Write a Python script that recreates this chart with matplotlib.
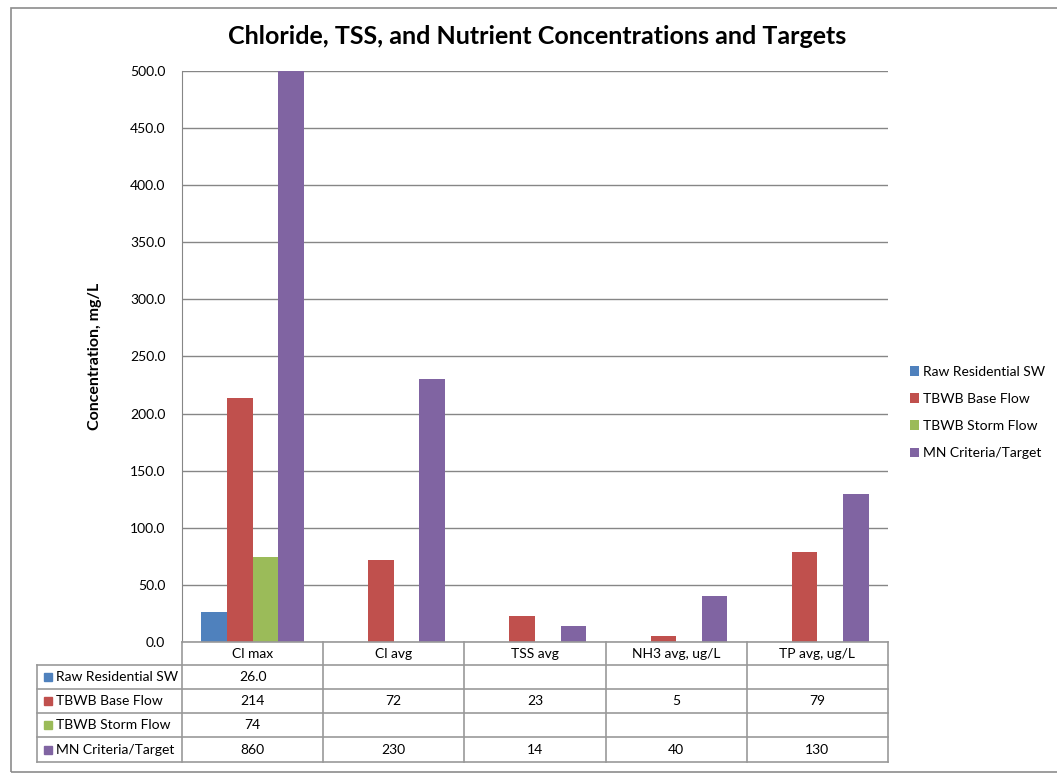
import matplotlib.pyplot as plt
from matplotlib.patches import Rectangle
import numpy as np

plt.rcParams['font.family'] = ['Lato', 'DejaVu Sans']

categories = ["Cl max", "Cl avg", "TSS avg", "NH3 avg, ug/L", "TP avg, ug/L"]
series_names = ["Raw Residential SW", "TBWB Base Flow", "TBWB Storm Flow", "MN Criteria/Target"]
raw_sw = [26.0, None, None, None, None]
base_flow = [214, 72, 23, 5, 79]
storm_flow = [74, None, None, None, None]
mn_target = [860, 230, 14, 40, 130]
series = [raw_sw, base_flow, storm_flow, mn_target]
table_fmt = ["{:.1f}", "{:g}", "{:g}", "{:g}"]
colors = ["#4F81BD", "#C0504D", "#9BBB59", "#8064A2"]

W, H = 1057, 773
fig = plt.figure(figsize=(W / 100, H / 100), dpi=100)

def fx(px):
    return px / W

def fy(py):
    return 1 - py / H

# outer chart border
fig.add_artist(Rectangle((fx(11), fy(772)), fx(1060) - fx(11), fy(8) - fy(772),
                         transform=fig.transFigure, fill=False, ec="#8c8c8c", lw=1.2))

left, right, top, bottom = 182, 888, 71, 642
ax = fig.add_axes([fx(left), fy(bottom), fx(right) - fx(left), fy(top) - fy(bottom)])

n = len(categories)
x = np.arange(n)
bw = 0.181
for i, (vals, col, name) in enumerate(zip(series, colors, series_names)):
    xs = [x[j] + (i - 1.5) * bw for j in range(n) if vals[j] is not None]
    ys = [vals[j] for j in range(n) if vals[j] is not None]
    ax.bar(xs, ys, width=bw, color=col, label=name, zorder=3)

ax.set_xlim(-0.5, n - 0.5)
ax.set_ylim(0, 500)
ax.set_yticks(np.arange(0, 501, 50))
ax.set_yticklabels(["%.1f" % v for v in np.arange(0, 501, 50)], fontsize=10)
ax.set_xticks([])
ax.yaxis.grid(True, color="#868686", lw=1, zorder=0)
ax.tick_params(axis="y", length=0, pad=12)
for s in ["top", "right", "bottom"]:
    ax.spines[s].set_visible(False)
ax.spines["left"].set_color("#868686")
ax.set_ylabel("Concentration, mg/L", fontsize=11.5, fontweight="bold", labelpad=20)

fig.text(fx(537), fy(37), "Chloride, TSS, and Nutrient Concentrations and Targets",
         ha="center", va="center", fontsize=18, fontweight="bold")

# data table
lc = "#999999"
tab_left = 37
col_w = (right - left) / n
row_edges = [642, 665, 689, 713, 737, 762]

def hline(y, x0, x1):
    fig.add_artist(plt.Line2D([fx(x0), fx(x1)], [fy(y), fy(y)], color=lc, lw=1.2))

def vline(xp, y0, y1):
    fig.add_artist(plt.Line2D([fx(xp), fx(xp)], [fy(y0), fy(y1)], color=lc, lw=1.2))

hline(row_edges[0], left, right)
for y in row_edges[1:]:
    hline(y, tab_left, right)
vline(tab_left, row_edges[1], row_edges[-1])
for k in range(n + 1):
    vline(left + k * col_w, row_edges[0], row_edges[-1])

for j, c in enumerate(categories):
    fig.text(fx(left + (j + 0.5) * col_w), fy((row_edges[0] + row_edges[1]) / 2), c,
             ha="center", va="center", fontsize=10)

for i, (vals, col, name) in enumerate(zip(series, colors, series_names)):
    yc = (row_edges[i + 1] + row_edges[i + 2]) / 2
    fig.add_artist(Rectangle((fx(44), fy(yc + 4)), fx(8), fy(yc - 4) - fy(yc + 4),
                             transform=fig.transFigure, color=col))
    fig.text(fx(56), fy(yc), name, ha="left", va="center", fontsize=10)
    for j in range(n):
        if vals[j] is not None:
            fig.text(fx(left + (j + 0.5) * col_w), fy(yc), table_fmt[i].format(vals[j]),
                     ha="center", va="center", fontsize=10)

leg = fig.legend(loc="upper left", bbox_to_anchor=(fx(904), fy(360)), frameon=False,
                 fontsize=10, handlelength=0.7, handleheight=0.7, handletextpad=0.3,
                 labelspacing=1.1, borderaxespad=0)

fig.savefig("out.png", dpi=100)
